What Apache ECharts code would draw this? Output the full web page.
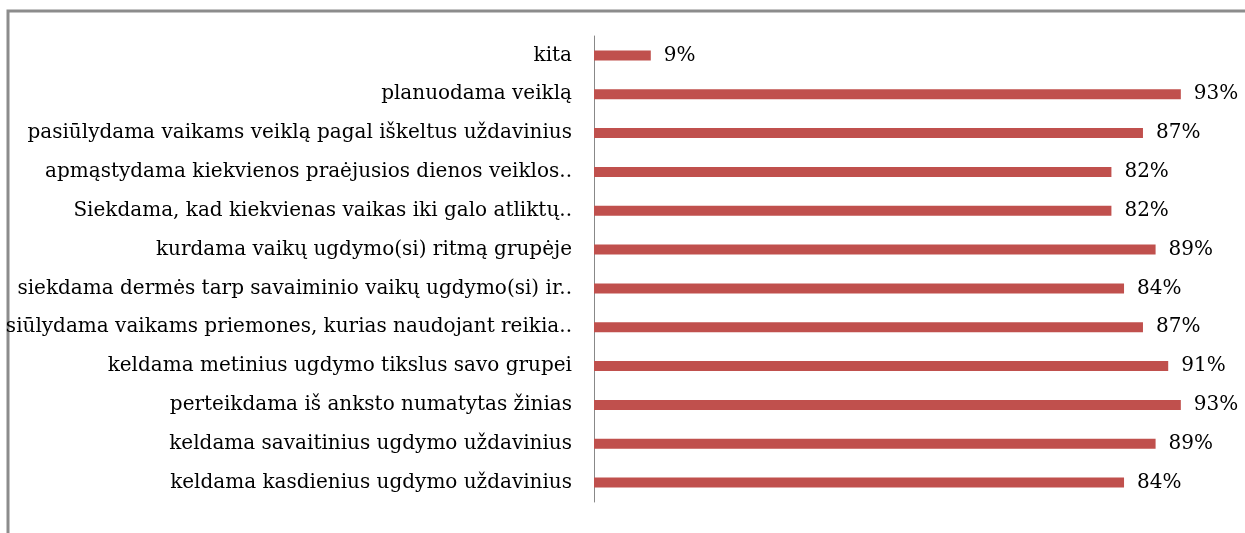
<!DOCTYPE html>
<html>
<head>
<meta charset="utf-8">
<script src="https://cdn.jsdelivr.net/npm/echarts@6/dist/echarts.min.js"></script>
<style>
  html, body { margin: 0; padding: 0; background: #fff; }
  #chart { width: 1245px; height: 533px; }
</style>
</head>
<body>
<div id="chart"></div>
<script>
// top to bottom, as in the picture
const categories = [
  'kita',
  'planuodama veiklą',
  'pasiūlydama vaikams veiklą pagal iškeltus uždavinius',
  'apmąstydama kiekvienos praėjusios dienos veiklos..',
  'Siekdama, kad kiekvienas vaikas iki galo atliktų..',
  'kurdama vaikų ugdymo(si) ritmą grupėje',
  'siekdama dermės tarp savaiminio vaikų ugdymo(si) ir..',
  'siūlydama vaikams priemones, kurias naudojant reikia..',
  'keldama metinius ugdymo tikslus savo grupei',
  'perteikdama iš anksto numatytas žinias',
  'keldama savaitinius ugdymo uždavinius',
  'keldama kasdienius ugdymo uždavinius'
]
const values = [9, 93, 87, 82, 82, 89, 84, 87, 91, 93, 89, 84]

// the source text is a stretched Times; DejaVu Serif comes closest in width
const FONT = '"DejaVu Serif", "Liberation Serif", serif'

const chart = echarts.init(document.getElementById('chart'))
chart.setOption({
  animation: false,
  graphic: [{
    type: 'rect',
    shape: { x: 8, y: 11, width: 1300, height: 600 },
    style: { fill: 'none', stroke: '#8c8c8c', lineWidth: 3 },
    silent: true
  }],
  grid: { left: 594, right: 20, top: 36, bottom: 31 },
  xAxis: {
    type: 'value',
    min: 0,
    max: 100,
    show: false
  },
  yAxis: {
    type: 'category',
    data: categories,
    inverse: true,
    axisLine: { show: true, lineStyle: { color: '#888', width: 1 } },
    axisTick: { show: false },
    axisLabel: {
      color: '#000',
      fontFamily: FONT,
      fontSize: 20,
      margin: 22,
      padding: [10, 0, 0, 0]
    }
  },
  series: [{
    type: 'bar',
    data: values,
    barWidth: 10,
    itemStyle: { color: '#C0504D' },
    label: {
      show: true,
      position: 'right',
      distance: 13,
      formatter: '{c}%',
      color: '#000',
      fontFamily: FONT,
      fontSize: 20
    }
  }]
})
</script>
</body>
</html>
